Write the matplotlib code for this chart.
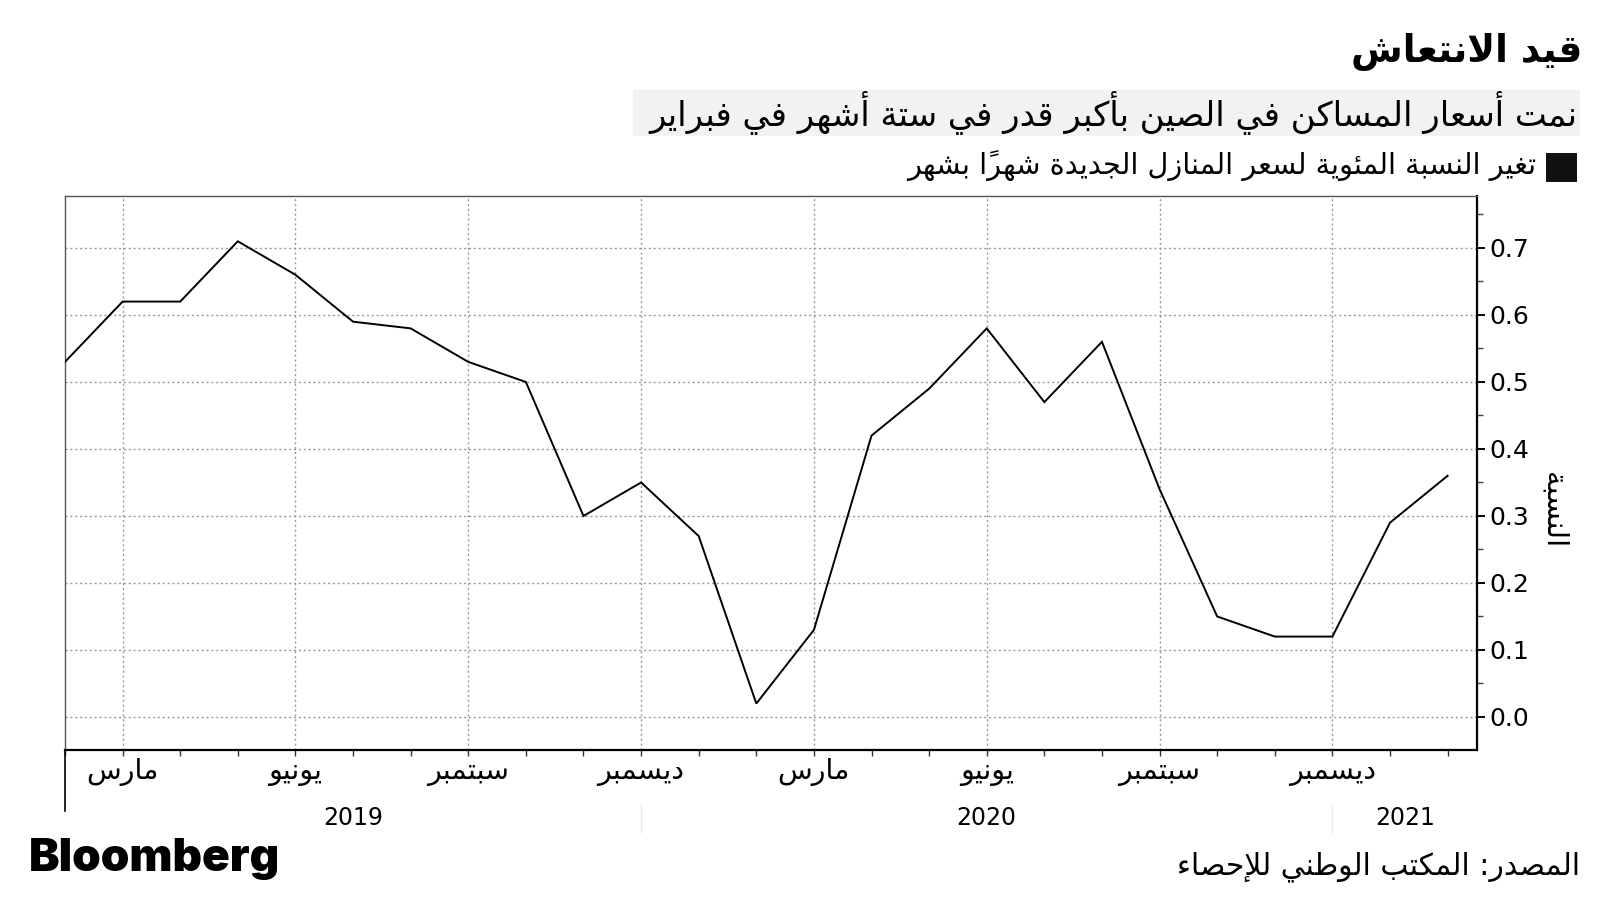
import numpy as np
import matplotlib
matplotlib.use("Agg")
import matplotlib.pyplot as plt
from matplotlib.patches import Rectangle
import matplotlib.transforms as mtransforms

# ---------------- data ----------------
months = ["فبراير", "مارس", "أبريل", "مايو", "يونيو", "يوليو", "أغسطس", "سبتمبر",
          "أكتوبر", "نوفمبر", "ديسمبر",
          "يناير", "فبراير", "مارس", "أبريل", "مايو", "يونيو", "يوليو", "أغسطس", "سبتمبر",
          "أكتوبر", "نوفمبر", "ديسمبر",
          "يناير", "فبراير"]
values = [0.53, 0.62, 0.62, 0.71, 0.66, 0.59, 0.58, 0.53, 0.50, 0.30, 0.35,
          0.27, 0.02, 0.13, 0.42, 0.49, 0.58, 0.47, 0.56, 0.34, 0.15, 0.12, 0.12,
          0.29, 0.36]
label_idx = [1, 4, 7, 10, 13, 16, 19, 22]
years = ["2019", "2020", "2021"]
year_pos = [5.0, 16.0, 23.27]
year_sep = [10, 22]
yticks = [0.0, 0.1, 0.2, 0.3, 0.4, 0.5, 0.6, 0.7]

title = "قيد الانتعاش"
subtitle = "نمت أسعار المساكن في الصين بأكبر قدر في ستة أشهر في فبراير"
legend_label = "تغير النسبة المئوية لسعر المنازل الجديدة شهراً بشهر"
ylabel = "النسبة"
source = "المصدر: المكتب الوطني للإحصاء"

# ---------------- minimal Arabic shaping ----------------
FOUR = {'ئ': 0xFE89, 'ب': 0xFE8F, 'ت': 0xFE95, 'ث': 0xFE99, 'ج': 0xFE9D, 'ح': 0xFEA1,
        'خ': 0xFEA5, 'س': 0xFEB1, 'ش': 0xFEB5, 'ص': 0xFEB9, 'ض': 0xFEBD, 'ط': 0xFEC1,
        'ظ': 0xFEC5, 'ع': 0xFEC9, 'غ': 0xFECD, 'ف': 0xFED1, 'ق': 0xFED5, 'ك': 0xFED9,
        'ل': 0xFEDD, 'م': 0xFEE1, 'ن': 0xFEE5, 'ه': 0xFEE9, 'ي': 0xFEF1}
TWO = {'آ': 0xFE81, 'أ': 0xFE83, 'ؤ': 0xFE85, 'إ': 0xFE87, 'ا': 0xFE8D, 'ة': 0xFE93,
       'د': 0xFEA9, 'ذ': 0xFEAB, 'ر': 0xFEAD, 'ز': 0xFEAF, 'و': 0xFEED, 'ى': 0xFEEF}
ONE = {'ء': 0xFE80}
LAMALEF = {'آ': 0xFEF5, 'أ': 0xFEF7, 'إ': 0xFEF9, 'ا': 0xFEFB}


def is_mark(c):
    return '\u064B' <= c <= '\u0652'


def shape(text):
    units = []  # [kind, base_code, marks, raw]
    i = 0
    n = len(text)
    while i < n:
        c = text[i]
        if is_mark(c):
            if units:
                units[-1][2] += c
            i += 1
            continue
        if c == 'ل':
            j = i + 1
            marks = ''
            while j < n and is_mark(text[j]):
                marks += text[j]
                j += 1
            if j < n and text[j] in LAMALEF:
                units.append(['two', LAMALEF[text[j]], marks, None])
                i = j + 1
                continue
        if c in FOUR:
            units.append(['four', FOUR[c], '', None])
        elif c in TWO:
            units.append(['two', TWO[c], '', None])
        elif c in ONE:
            units.append(['one', ONE[c], '', None])
        else:
            units.append(['other', None, '', c])
        i += 1
    out = []
    for k, u in enumerate(units):
        kind = u[0]
        if kind == 'other':
            out.append(u[3] + u[2])
            continue
        prev_conn = k > 0 and units[k - 1][0] == 'four'
        next_conn = k + 1 < len(units) and units[k + 1][0] in ('four', 'two')
        base = u[1]
        if kind == 'four':
            if prev_conn and next_conn:
                ch = base + 3
            elif prev_conn:
                ch = base + 1
            elif next_conn:
                ch = base + 2
            else:
                ch = base
        elif kind == 'two':
            ch = base + 1 if prev_conn else base
        else:
            ch = base
        out.append(chr(ch) + u[2])
    return ''.join(reversed(out))


AR = ['DejaVu Sans']

# ---------------- figure ----------------
W, H = 1600, 900
fig = plt.figure(figsize=(16, 9), dpi=100)
fig.patch.set_facecolor('white')

ax_l, ax_r, ax_t, ax_b = 65, 1477, 196, 750
ax = fig.add_axes([ax_l / W, 1 - ax_b / H, (ax_r - ax_l) / W, (ax_b - ax_t) / H])

x = np.arange(len(values))
ax.plot(x, values, color='black', lw=1.4, solid_joinstyle='miter', zorder=3)

ax.set_xlim(0, 24.51)
ax.set_ylim(-0.0493, 0.7776)

# grid
for xi in label_idx:
    ax.axvline(xi, color='#9a9a9a', lw=1.0, ls=(0, (1.5, 2)), zorder=1)
for yv in yticks:
    ax.axhline(yv, color='#9a9a9a', lw=1.0, ls=(0, (1.5, 2)), zorder=1)

# spines
for s in ['top', 'left']:
    ax.spines[s].set_color('#555555')
    ax.spines[s].set_linewidth(1.0)
for s in ['right', 'bottom']:
    ax.spines[s].set_color('black')
    ax.spines[s].set_linewidth(1.6)

# x ticks
ax.set_xticks(label_idx)
ax.set_xticklabels([shape(months[i]) for i in label_idx], fontfamily=AR, fontsize=20.5)
ax.set_xticks(x, minor=True)
ax.tick_params(axis='x', which='both', direction='out', length=4, width=1, color='#333333', pad=2)

# y ticks on right
ax.yaxis.tick_right()
ax.set_yticks(yticks)
ax.set_yticklabels([f"{v:.1f}" for v in yticks], fontsize=18)
ax.set_yticks(np.arange(0.05, 0.76, 0.1), minor=True)
ax.tick_params(axis='y', which='major', direction='out', length=6, width=1.4, pad=3)
ax.tick_params(axis='y', which='minor', direction='out', length=4, width=1, color='#444444')

ax.text(1.0545, 0.433, shape(ylabel), transform=ax.transAxes, rotation=270,
        ha='center', va='center', fontsize=21, fontfamily=AR)

# year labels & separators
trans = mtransforms.blended_transform_factory(ax.transData, ax.transAxes)
for yp, yl in zip(year_pos, years):
    ax.text(yp, -0.122, yl, transform=trans, ha='center', va='center', fontsize=17)
for xs in year_sep:
    ax.plot([xs, xs], [-0.10, -0.148], transform=trans, color='#e8e8e8', lw=1, clip_on=False)
ax.plot([0, 0], [0, -0.11], transform=trans, color='black', lw=1.2, clip_on=False)

# ---------------- header ----------------
fig.text(1582 / W, 1 - 51 / H, shape(title), ha='right', va='center',
         fontsize=27, fontweight='bold', fontfamily=AR)

fig.patches.append(Rectangle((633 / W, 1 - 136 / H), (1580 - 633) / W, 46 / H,
                             transform=fig.transFigure, facecolor='#f2f2f2',
                             edgecolor='none', zorder=0))
fig.text(1577 / W, 1 - 112 / H, shape(subtitle), ha='right', va='center',
         fontsize=24.4, fontfamily=AR)

fig.patches.append(Rectangle((1546 / W, 1 - 182 / H), 31 / W, 29 / H,
                             transform=fig.transFigure, facecolor='#111111',
                             edgecolor='none'))
fig.text(1536 / W, 1 - 166 / H, shape(legend_label), ha='right', va='center',
         fontsize=20.7, fontfamily=AR)

# ---------------- footer ----------------
fig.text(29 / W, 1 - 859 / H, "Bloomberg", ha='left', va='center',
         fontsize=33, fontweight='black', fontfamily='Inter')
fig.text(1580 / W, 1 - 867 / H, shape(source), ha='right', va='center',
         fontsize=21.4, fontfamily=AR)

fig.savefig('out.png', dpi=100)
